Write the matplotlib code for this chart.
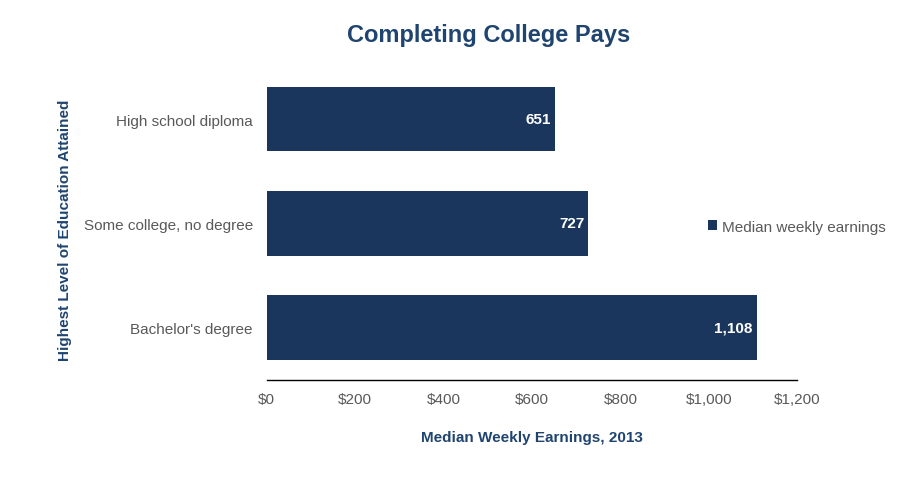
import matplotlib
matplotlib.use("Agg")
import matplotlib.pyplot as plt
from matplotlib.ticker import FuncFormatter

categories = ["High school diploma", "Some college, no degree", "Bachelor's degree"]
earnings = [651, 727, 1108]
value_labels = ["651", "727", "1,108"]

navy = "#1a365d"
title_blue = "#1f4470"
grey = "#595959"

plt.rcParams["font.family"] = ["Liberation Sans", "DejaVu Sans"]

fig = plt.figure(figsize=(9.07, 4.81), dpi=100)
ax = fig.add_axes([0.294, 0.208, 0.585, 0.651])

ypos = list(range(len(categories)))
bars = ax.barh(ypos, earnings, height=0.62, color=navy, label="Median weekly earnings")
ax.set_ylim(len(categories) - 0.5, -0.5)
ax.set_xlim(0, 1200)
ax.set_yticks(ypos)
ax.set_yticklabels(categories, color=grey, fontsize=11)
ax.set_xticks(range(0, 1201, 200))
ax.xaxis.set_major_formatter(FuncFormatter(lambda v, p: "${:,.0f}".format(v)))
ax.tick_params(axis="x", colors=grey, labelsize=11, length=0, pad=9)
ax.tick_params(axis="y", length=0, pad=10)
for s in ["top", "right", "left"]:
    ax.spines[s].set_visible(False)
ax.spines["bottom"].set_color("black")
ax.spines["bottom"].set_linewidth(1.0)

for b, lab in zip(bars, value_labels):
    ax.text(b.get_width() - 9, b.get_y() + b.get_height() / 2, lab,
            ha="right", va="center", color="white", fontsize=11, fontweight="bold")

ax.set_xlabel("Median Weekly Earnings, 2013", color=title_blue, fontsize=11,
              fontweight="bold", labelpad=17)
fig.text(0.072, 0.522, "Highest Level of Education Attained", rotation=90,
         ha="center", va="center", color=title_blue, fontsize=11, fontweight="bold")
fig.text(0.539, 0.927, "Completing College Pays", ha="center", va="center",
         color=title_blue, fontsize=17, fontweight="bold")

leg = ax.legend(loc="center left", bbox_to_anchor=(0.806, 0.49), frameon=False,
                fontsize=11, handlelength=0.6, handleheight=0.6, handletextpad=0.3)
for t in leg.get_texts():
    t.set_color(grey)

fig.savefig("out.png", dpi=100, facecolor="white")
